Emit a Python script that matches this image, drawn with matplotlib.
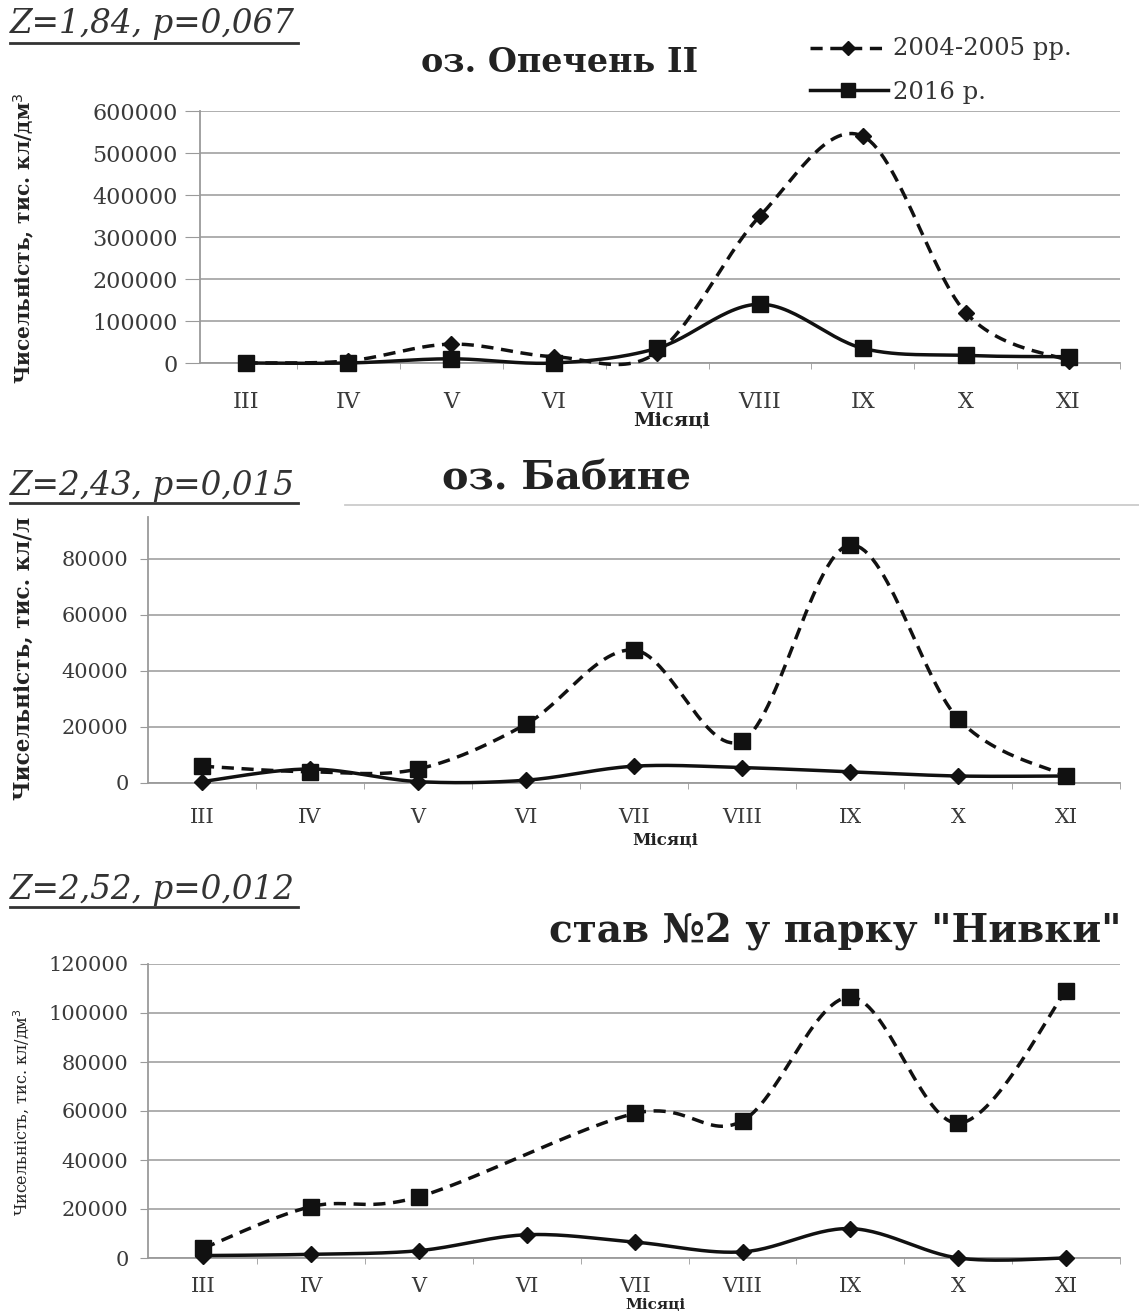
import numpy as np
import matplotlib
matplotlib.use('Agg')
import matplotlib.pyplot as plt
from matplotlib.lines import Line2D

plt.rcParams['font.family'] = ['DejaVu Serif', 'Liberation Serif']

months = ['III', 'IV', 'V', 'VI', 'VII', 'VIII', 'IX', 'X', 'XI']

# оз. Опечень ІІ
opechen_dash = [0, 5000, 45000, 15000, 25000, 350000, 540000, 120000, 5000]
opechen_solid = [0, 0, 10000, 0, 35000, 140000, 35000, 18000, 15000]
# оз. Бабине
babyne_dash = [6000, 4000, 5000, 21000, 47500, 15000, 85000, 23000, 2500]
babyne_solid = [500, 5000, 500, 1000, 6000, 5500, 4000, 2500, 2500]
# став №2 у парку "Нивки"
nyvky_dash = [4000, 21000, 25000, np.nan, 59000, 56000, 106500, 55000, 109000]
nyvky_solid = [1000, 1500, 3000, 9500, 6500, 2500, 12000, 0, 0]

W, H = 1139, 1313
fig = plt.figure(figsize=(W / 100, H / 100), dpi=100)


def fx(x):
    return x / W


def fy(y):
    return 1 - y / H


def smooth(x, y, n=30):
    # excel-like smoothed line (catmull-rom as bezier)
    pts = np.column_stack([x, y])
    P = np.vstack([pts[0], pts, pts[-1]])
    out = []
    t = np.linspace(0, 1, n)[:, None]
    for i in range(1, len(P) - 2):
        p0, p1, p2, p3 = P[i - 1], P[i], P[i + 1], P[i + 2]
        c1 = p1 + (p2 - p0) / 6
        c2 = p2 - (p3 - p1) / 6
        seg = (1 - t) ** 3 * p1 + 3 * (1 - t) ** 2 * t * c1 + 3 * (1 - t) * t ** 2 * c2 + t ** 3 * p2
        out.append(seg if i == 1 else seg[1:])
    return np.vstack(out)


def series(ax, vals, dashed, marker, ms):
    x = np.arange(len(vals), dtype=float)
    y = np.array(vals, dtype=float)
    ok = ~np.isnan(y)
    c = smooth(x[ok], y[ok])
    ls = (0, (3.5, 2.2)) if dashed else '-'
    ax.plot(c[:, 0], c[:, 1], color='#111111', lw=2.5, ls=ls, zorder=3, clip_on=False)
    ax.plot(x[ok], y[ok], ls='none', marker=marker, ms=ms, color='#111111', zorder=4, clip_on=False)


def panel(l, r, top, bottom, x0px, step, ymax, yticks, ticklen, tickpad, xpad, fs):
    ax = fig.add_axes([fx(l), fy(bottom), (r - l) / W, (bottom - top) / H])
    ax.set_xlim(-(x0px - l) / step, (r - l - (x0px - l)) / step)
    ax.set_ylim(0, ymax)
    ax.set_yticks(yticks)
    ax.set_yticklabels([str(v) for v in yticks])
    ax.set_xticks(range(9))
    ax.set_xticklabels(months)
    ax.set_xticks(np.arange(0.5, 8.6, 1), minor=True)
    for s in ['top', 'right']:
        ax.spines[s].set_visible(False)
    ax.spines['left'].set_color('#9a9a9a')
    ax.spines['bottom'].set_color('#9a9a9a')
    ax.spines['left'].set_linewidth(1.3)
    ax.spines['bottom'].set_linewidth(1.3)
    ax.grid(axis='y', color='#a8a8a8', lw=1.3)
    ax.set_axisbelow(True)
    ax.tick_params(axis='y', length=ticklen, pad=tickpad, color='#9a9a9a', labelsize=fs, labelcolor='#3a3a3a')
    ax.tick_params(axis='x', which='major', length=0, pad=xpad, labelsize=fs, labelcolor='#3a3a3a')
    ax.tick_params(axis='x', which='minor', length=4, color='#9a9a9a', direction='out')
    return ax


# panel 1
ax1 = panel(200, 1120, 111, 363, 247, 106.1, 600000, list(range(0, 600001, 100000)), 11, 5, 20, 16)
series(ax1, opechen_dash, True, 'D', 8)
series(ax1, opechen_solid, False, 's', 11)

# panel 2
ax2 = panel(148, 1120, 517, 783, 204, 112, 95000, list(range(0, 80001, 20000)), 6, 8, 18, 15)
series(ax2, babyne_solid, False, 'D', 8)
series(ax2, babyne_dash, True, 's', 11)

# panel 3
ax3 = panel(148, 1120, 964, 1258, 204, 109.1, 120000, list(range(0, 120001, 20000)), 6, 8, 14, 15)
series(ax3, nyvky_solid, False, 'D', 8)
series(ax3, nyvky_dash, True, 's', 11)

# titles
fig.text(fx(560), fy(62), 'оз. Опечень ІІ', ha='center', va='center', fontsize=24, fontweight='bold', color='#222222')
fig.text(fx(567), fy(478), 'оз. Бабине', ha='center', va='center', fontsize=28.5, fontweight='bold', color='#222222')
fig.text(fx(835), fy(932), 'став №2 у парку "Нивки"', ha='center', va='center', fontsize=28, fontweight='bold', color='#222222')

# statistics
for txt, yc, yu in [('Z=1,84, p=0,067', 24, 43), ('Z=2,43, p=0,015', 486, 503), ('Z=2,52, p=0,012', 890, 907)]:
    fig.text(fx(10), fy(yc), txt, ha='left', va='center', fontsize=23.5, style='italic', color='#333333')
    fig.add_artist(Line2D([fx(10), fx(298)], [fy(yu), fy(yu)], color='#333333', lw=2))

# frame fragment near panel 2
fig.add_artist(Line2D([fx(345), fx(1139)], [fy(505), fy(505)], color='#cccccc', lw=1.3))

# y labels
fig.text(fx(24), fy(238), 'Чисельність, тис. кл/дм$^3$', rotation=90, ha='center', va='center', fontsize=14.5, fontweight='bold', color='#222222')
fig.text(fx(24), fy(658), 'Чисельність, тис. кл/л', rotation=90, ha='center', va='center', fontsize=15.5, fontweight='bold', color='#222222')
fig.text(fx(22), fy(1112), 'Чисельність, тис. кл/дм$^3$', rotation=90, ha='center', va='center', fontsize=11.5, color='#222222')

# x labels
fig.text(fx(672), fy(421), 'Місяці', ha='center', va='center', fontsize=14, fontweight='bold', color='#222222')
fig.text(fx(665), fy(840), 'Місяці', ha='center', va='center', fontsize=12, fontweight='bold', color='#222222')
fig.text(fx(655), fy(1305), 'Місяці', ha='center', va='center', fontsize=11, fontweight='bold', color='#222222')

# legend
fig.add_artist(Line2D([fx(810), fx(888)], [fy(48), fy(48)], color='#111111', lw=2.5, ls=(0, (3.5, 2.2))))
fig.add_artist(Line2D([fx(848)], [fy(48)], color='#111111', marker='D', ms=7, ls='none'))
fig.text(fx(893), fy(48), '2004-2005 рр.', ha='left', va='center', fontsize=17.5, color='#333333')
fig.add_artist(Line2D([fx(810), fx(888)], [fy(90), fy(90)], color='#111111', lw=2.5))
fig.add_artist(Line2D([fx(848)], [fy(90)], color='#111111', marker='s', ms=10, ls='none'))
fig.text(fx(893), fy(92), '2016 р.', ha='left', va='center', fontsize=17.5, color='#333333')

fig.savefig('out.png', dpi=100)
